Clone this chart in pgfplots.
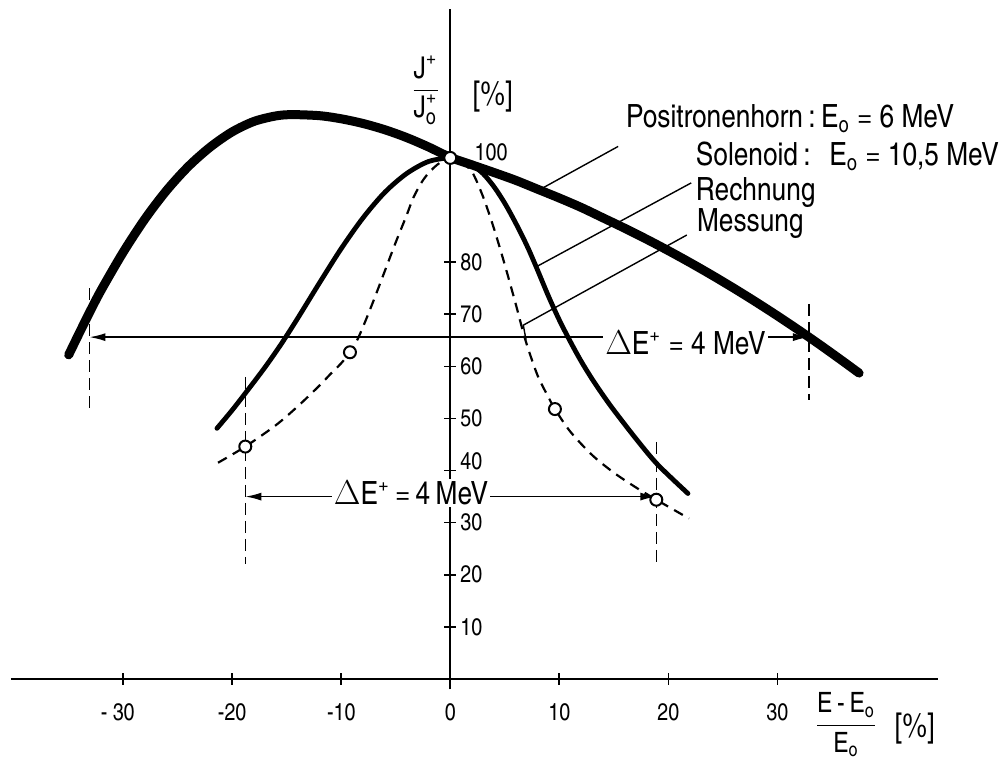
\documentclass[border=0pt]{standalone}
\usepackage{fontspec}
\setmainfont{texgyreheroscn}[Extension=.otf, UprightFont=*-regular, BoldFont=*-bold, ItalicFont=*-italic, BoldItalicFont=*-bolditalic]
\usepackage{pgfplots}
\pgfplotsset{compat=1.18}
\usetikzlibrary{arrows.meta}

\begin{document}
\begin{tikzpicture}
\begin{axis}[
  x=5.45pt, y=2.605pt,
  axis lines=middle,
  axis line style={-, line width=1pt},
  xmin=-40.3, xmax=44.7, ymin=-2, ymax=128.5,
  xtick={-30,-20,-10,0,10,20,30},
  ytick={10,20,30,40,50,60,70,80,100},
  xticklabels={}, yticklabels={},
  tick align=center, major tick length=6pt,
  tick style={black, line width=0.8pt},
  clip=false,
  hide obscured x ticks=false, hide obscured y ticks=false,
]
% Positronenhorn (thick)
\addplot[line width=4.5pt, smooth, line cap=round] coordinates {
 (-35,62.2) (-34,66.5) (-33,70.7) (-32,74.7) (-30,81.9) (-28,88.3) (-26,93.8)
 (-24,98.4) (-22,102.1) (-20,105.0) (-18,107.0) (-16,108.05) (-14.5,108.3)
 (-12,108.1) (-10,107.5) (-8,106.6) (-6,105.4) (-4,103.9) (-2,102.1) (0,100.1)
 (2,98.65) (4,97.2) (6,95.7) (8,94.0) (10,92.3) (12,90.5) (14,88.5) (16,86.5)
 (18,84.4) (20,82.2) (22,79.9) (24,77.5) (26,75.0) (28,72.4) (30,69.7) (32,66.9)
 (34,64.0) (36,61.0) (37.5,58.7)
};
% Solenoid Rechnung (solid)
\addplot[line width=2.4pt, smooth, line cap=round] coordinates {
 (-21.4,48.1) (-20,51.6) (-18.7,55.1) (-17,59.8) (-15.5,64.3) (-14,69.2) (-12,76)
 (-10,82.6) (-8,88.5) (-6,93.4) (-4,97) (-2,99.3) (0,100) (1,99.4) (2,98.6) (3,97)
 (4,94.5) (5,91.3) (6,87.5) (7,83.3) (7.8,79.5) (9,73.5) (10,68.9) (11,64.8)
 (12,61.0) (13,57.6) (14,54.5) (15,51.6) (17,46.2) (19,41.2) (21.8,35.6)
};
% Solenoid Messung (dashed)
\addplot[line width=1.1pt, dash pattern=on 5pt off 3.5pt, smooth] coordinates {
 (-21.3,41.5) (-18.8,44.6) (-16,48.7) (-14,52.3) (-12,56.3) (-11,58.5) (-10,60.6)
 (-9.2,62.7) (-8.5,65.2) (-7.8,68.6) (-7,72.8) (-6,78.3) (-5,83.8) (-4,89)
 (-3.4,92.3) (-2.6,95.4) (-1.9,97.3) (-1,99) (0,100) (1,99.2) (2,97.3) (3,92.6)
 (4,86.5) (5,79.5) (6,72) (6.9,65) (8,58.3) (9,54.1) (9.6,51.8) (11,47.5) (13,43)
 (15,39.6) (17,36.8) (18.9,34.4) (21.9,30.8)
};
% reference dashed verticals
\addplot[line width=0.8pt, dash pattern=on 6pt off 3pt] coordinates {(-33.1,75) (-33.1,51)};
\addplot[line width=0.8pt, dash pattern=on 6pt off 3pt] coordinates {(32.9,72) (32.9,53.5)};
\addplot[line width=0.8pt, dash pattern=on 6pt off 3pt] coordinates {(-18.8,58) (-18.8,22)};
\addplot[line width=0.8pt, dash pattern=on 6pt off 3pt] coordinates {(18.9,45.5) (18.9,22)};
% arrows
\addplot[line width=0.8pt, {Latex[length=8pt,width=4pt]}-{Latex[length=8pt,width=4pt]}] coordinates {(-33.1,65.6) (32.9,65.6)};
\addplot[line width=0.8pt, {Latex[length=8pt,width=4pt]}-{Latex[length=8pt,width=4pt]}] coordinates {(-18.8,35) (18.9,35)};
% leader lines
\addplot[line width=0.7pt] coordinates {(8.2,93.9) (15.4,102.2)};
\addplot[line width=0.7pt] coordinates {(7.8,79) (22.1,95.2)};
\addplot[line width=0.7pt] coordinates {(6.95,65.1) (6.7,67.9) (21.7,85.2)};
% markers
\addplot[only marks, mark=*, mark size=3pt, mark options={fill=white, draw=black, line width=1pt}] coordinates {
 (-18.8,44.6) (-9.2,62.7) (0,100) (9.6,51.8) (18.9,34.4)
};
% labels
\node[anchor=base west, font=\fontsize{16}{19}\selectfont, inner sep=0pt] at (axis cs:16.1,105.8) {Positronenhorn\,:\,E\textsubscript{o} = 6 MeV};
\node[anchor=base west, font=\fontsize{16}{19}\selectfont, inner sep=0pt] at (axis cs:22.5,98.5) {Solenoid\,:\; E\textsubscript{o} = 10,5 MeV};
\node[anchor=base west, font=\fontsize{16}{19}\selectfont, inner sep=0pt] at (axis cs:22.5,91.9) {Rechnung};
\node[anchor=base west, font=\fontsize{16}{19}\selectfont, inner sep=0pt] at (axis cs:22.6,85.9) {Messung};
\node[anchor=base west, font=\fontsize{16}{19}\selectfont, fill=white, inner sep=1pt] at (axis cs:14.0,62.2) {$\Delta$E\textsuperscript{+} = 4 MeV};
\node[anchor=base west, font=\fontsize{16}{19}\selectfont, fill=white, inner sep=1pt] at (axis cs:-10.9,33.4) {$\Delta$E\textsuperscript{+}\,=\,4\,MeV};
% axis labels
\node[anchor=east, font=\fontsize{15}{18}\selectfont] at (axis cs:-0.3,113) {$\displaystyle\frac{\mbox{J}^{\mbox{\fontsize{11}{11}\selectfont +}}}{\mbox{J}^{\mbox{\fontsize{11}{11}\selectfont +}}_{\mbox{\fontsize{11}{11}\selectfont o}}}$};
\node[font=\fontsize{17}{20}\selectfont] at (axis cs:3.9,111.7) {[\%]};
\node[font=\fontsize{14}{17}\selectfont] at (axis cs:36.3,-8.8) {$\displaystyle\frac{\mbox{E\,-\,E\textsubscript{o}}}{\mbox{E\textsubscript{o}}}$};
\node[font=\fontsize{17}{20}\selectfont] at (axis cs:42.6,-9.6) {[\%]};
% tick labels
\node[font=\fontsize{12}{14}\selectfont] at (axis cs:-30.5,-6.3) {- 30};
\node[font=\fontsize{12}{14}\selectfont] at (axis cs:-20,-6.3) {-20};
\node[font=\fontsize{12}{14}\selectfont] at (axis cs:-10,-6.3) {-10};
\node[font=\fontsize{12}{14}\selectfont] at (axis cs:0,-6.3) {0};
\node[font=\fontsize{12}{14}\selectfont] at (axis cs:10,-6.3) {10};
\node[font=\fontsize{12}{14}\selectfont] at (axis cs:20,-6.3) {20};
\node[font=\fontsize{12}{14}\selectfont] at (axis cs:30,-6.3) {30};
\node[anchor=west, font=\fontsize{12}{14}\selectfont, inner sep=0pt] at (axis cs:0.9,10) {10};
\node[anchor=west, font=\fontsize{12}{14}\selectfont, inner sep=0pt] at (axis cs:0.9,20) {20};
\node[anchor=west, font=\fontsize{12}{14}\selectfont, inner sep=0pt] at (axis cs:0.9,30) {30};
\node[anchor=west, font=\fontsize{12}{14}\selectfont, inner sep=0pt] at (axis cs:0.9,41.7) {40};
\node[anchor=west, font=\fontsize{12}{14}\selectfont, inner sep=0pt] at (axis cs:0.9,50) {50};
\node[anchor=west, font=\fontsize{12}{14}\selectfont, inner sep=0pt] at (axis cs:0.9,60) {60};
\node[anchor=west, font=\fontsize{12}{14}\selectfont, inner sep=0pt] at (axis cs:0.9,70) {70};
\node[anchor=west, font=\fontsize{12}{14}\selectfont, inner sep=0pt] at (axis cs:0.9,80) {80};
\node[anchor=west, font=\fontsize{12}{14}\selectfont, inner sep=0pt] at (axis cs:2.2,101) {100};
\coordinate (bl) at (axis cs:-41.3,-15.5);
\coordinate (tr) at (axis cs:50.7,130.3);
\end{axis}
\pgfresetboundingbox
\path[use as bounding box] (bl) rectangle (tr);
\end{tikzpicture}
\end{document}
